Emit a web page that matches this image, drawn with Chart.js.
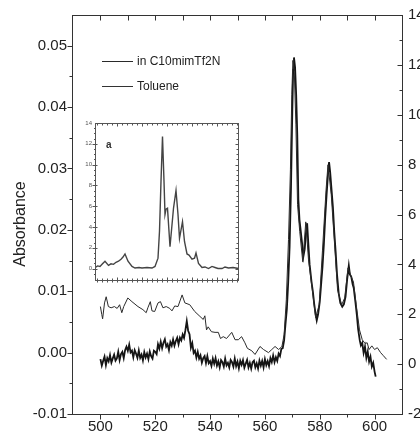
<!DOCTYPE html>
<html>
<head>
<meta charset="utf-8">
<script src="https://cdn.jsdelivr.net/npm/chart.js@4.4.0/dist/chart.umd.min.js"></script>
<style>
  html, body { margin: 0; padding: 0; background: #fff; }
  #wrap { position: relative; width: 420px; height: 435px; overflow: hidden; }
  #main { position: absolute; left: 0; top: 0; }
  #inset { position: absolute; left: 78px; top: 116px; filter: blur(0.35px); }
</style>
</head>
<body>
<div id="wrap">
  <canvas id="main" width="420" height="435" style="width:420px;height:435px"></canvas>
  <canvas id="inset" width="168" height="172" style="width:168px;height:172px"></canvas>
</div>
<script>
// ---- series names ----
const seriesNames = ['in C10mimTf2N', 'Toluene'];

// ---- absorbance in C10mimTf2N (left axis) ----
const ilNm = [500,500.5,500.8,501.5,502.1,502.9,503.9,505.1,506.1,507,507.8,508.5,510,511.5,513.7,515.5,516.7,517.3,518.2,518.8,
  519.8,521,521.9,522.8,524,525.3,526.1,527.1,528.3,529.8,530.8,532.6,534.4,536.3,537.5,538.1,538.7,539.3,540.5,541.8,
  543,543.8,544.8,546,547.9,549.1,550.3,551.5,552.7,553.6,555.2,556.4,558.2,559.5,561.3,562.5,563.7,565,566.2,567,
  567.8,568.6,569.3,569.8,570.2,570.7,571.3,571.9,572.7,573.8,574.9,575.9,577.3,578.5,579.8,581,582.3,583,584.2,585.3,
  586.5,588,589.1,590.3,591.2,592.3,593.3,594.5,595.5,596.5,597.3,598,599,600,601,602.2,603.2,604.4];
const ilAbs = [0.0075,0.0062,0.0055,0.0081,0.0091,0.0075,0.0073,0.0075,0.0072,0.0078,0.0065,0.0075,0.0089,0.0083,0.0075,0.0070,0.0065,0.0073,0.0083,0.0068,
  0.0067,0.0081,0.0083,0.0073,0.0075,0.0072,0.0068,0.0076,0.0075,0.0094,0.0081,0.0078,0.0067,0.0059,0.0054,0.0060,0.0037,0.0042,0.0034,0.0033,
  0.0033,0.0023,0.0026,0.0023,0.0033,0.0021,0.0021,0.0026,0.0016,0.0007,0.0003,-0.0003,0.0010,0.0005,0.0000,0.0005,0.0010,0.0005,0.0010,0.0029,
  0.0086,0.0184,0.0298,0.0420,0.0476,0.0460,0.0371,0.0241,0.0197,0.0148,0.0213,0.0151,0.0102,0.0057,0.0078,0.0167,0.0265,0.0306,0.0257,0.0184,
  0.0102,0.0078,0.0089,0.0138,0.0127,0.0115,0.0078,0.0037,0.0021,0.0015,0.0016,0.0005,0.0011,0.0005,0.0008,0.0000,-0.0005,-0.0011];

// ---- toluene spectrum (right axis) ----
const tolNm = [
  500,500.5,501,501.5,502,502.5,503,503.5,504,504.5,
  505,505.5,506,506.5,507,507.5,508,508.5,509,509.5,
  510,510.5,511,511.5,512,512.5,513,513.5,514,514.5,
  515,515.5,516,516.5,517,517.5,518,518.5,519,519.5,
  520,520.5,521,521.5,522,522.5,523,523.5,524,524.5,
  525,525.5,526,526.5,527,527.5,528,528.5,529,529.5,
  530,530.5,531,531.5,532,532.5,533,533.5,534,534.5,
  535,535.5,536,536.5,537,537.5,538,538.5,539,539.5,
  540,540.5,541,541.5,542,542.5,543,543.5,544,544.5,
  545,545.5,546,546.5,547,547.5,548,548.5,549,549.5,
  550,550.5,551,551.5,552,552.5,553,553.5,554,554.5,
  555,555.5,556,556.5,557,557.5,558,558.5,559,559.5,
  560,560.5,561,561.5,562,562.5,563,563.5,564,564.5,
  565,565.5,566,566.5,
  567,567.5,568,568.5,569,569.5,570,570.3,570.6,571,
  571.4,571.8,572.2,572.6,573,573.5,574,574.5,575,575.4,
  575.8,576.3,577,577.5,578,578.5,578.9,579.4,580,580.5,
  581,581.5,582,582.5,583,583.4,583.8,584.3,584.8,585.3,
  585.8,586.3,586.9,587.5,588.2,588.8,589.4,590,590.6,591,
  591.5,592,592.4,593,593.5,594,594.6,595,595.5,596,
  596.5,597,597.5,598,598.5,599,599.5,600,600.4];
const tolVal = [
  0.20,-0.06,0.13,0.30,-0.04,0.24,0.11,0.36,0.06,0.23,
  0.38,0.14,0.23,0.50,0.16,0.40,0.49,0.24,0.56,0.70,
  0.53,0.78,0.47,0.54,0.27,0.56,0.42,0.25,0.55,0.25,
  0.38,0.15,0.48,0.27,0.42,0.20,0.51,0.32,0.22,0.54,
  0.49,0.40,0.80,0.62,0.90,0.64,0.86,1.00,0.70,0.80,
  0.56,0.88,0.74,0.99,0.74,0.93,1.06,0.80,1.06,0.95,
  1.19,1.05,1.36,1.72,1.34,1.20,0.66,0.84,0.45,0.54,
  0.26,0.49,0.22,0.35,0.06,0.24,0.32,0.04,0.32,0.04,
  0.12,-0.07,0.22,0.01,0.24,-0.06,0.11,-0.13,0.16,0.08,
  -0.10,0.22,-0.05,0.05,-0.13,0.17,0.08,-0.10,0.22,-0.08,
  0.10,-0.17,0.13,-0.03,0.16,-0.14,0.02,0.17,-0.13,0.05,
  -0.18,0.08,0.14,-0.13,0.03,-0.18,0.14,-0.06,0.13,-0.13,
  0.20,-0.04,0.12,-0.08,0.24,0.08,0.35,0.08,0.28,0.13,
  0.42,0.32,0.61,0.64,
  0.95,1.6,2.2,3.3,4.7,7.0,10.2,11.8,12.3,11.9,
  10.8,9.2,6.6,5.8,5.4,4.9,4.3,4.6,5.3,5.65,
  4.9,4.0,3.3,2.9,2.4,2.0,1.75,2.0,2.5,3.2,
  3.9,4.8,5.9,6.8,7.6,8.1,7.7,7.0,6.3,5.3,
  4.5,3.6,2.85,2.45,2.3,2.4,2.7,3.4,3.95,3.6,
  3.5,3.2,3.05,2.5,2.0,1.4,0.95,0.75,0.85,0.45,
  0.7,0.25,0.5,0.1,0.3,-0.1,0.05,-0.3,-0.5];

// ---- inset (a): wider-range spectrum ----
const insetNm = [503,505.5,508,510.5,513,516.5,519,521.5,524,526.5,529,531,533,536,540,543,547,550,555,560,
  563,566,567.5,569,570.5,572,573,574,575.5,578,581.5,584,586,587.5,590.5,592.5,595,597,600,602.5,
  604,606.5,610,613,616.5,620,623,626,630,633,636.5,641,646.5];
const insetVal = [0.07,0.25,0.2,0.45,0.7,0.3,0.45,0.4,0.6,0.7,0.9,1.1,1.4,0.7,0.2,0.05,0.1,0.05,0.1,0.05,
  0.2,1.0,3.6,8.4,12.7,8.4,5.2,5.7,5.8,2.1,5.8,7.5,5.2,2.9,4.5,2.6,1.4,1.3,0.9,1.0,
  1.5,0.5,0.1,0.15,0.0,0.2,0.1,0.0,0.0,0.15,0.05,0.1,0.0];

// ---- tick labels ----
const xTicks = [500, 520, 540, 560, 580, 600];
const yLeftTicks = [-0.01, 0.00, 0.01, 0.02, 0.03, 0.04, 0.05];
const yRightTicks = [-2, 0, 2, 4, 6, 8, 10, 12, 14];
const insetYTicks = [0, 2, 4, 6, 8, 10, 12, 14];

const FONT = "'Liberation Sans', Arial, Helvetica, sans-serif";
const INK = '#222';

function pts(xs, ys) { return xs.map((x, i) => ({ x: x, y: ys[i] })); }
function setTicks(list) { return scale => { scale.ticks = list.map(v => ({ value: v })); }; }
function seg(ctx, x1, y1, x2, y2) { ctx.beginPath(); ctx.moveTo(x1, y1); ctx.lineTo(x2, y2); ctx.stroke(); }

// frame, tick marks, legend and axis title of the main panel
const mainDecor = {
  id: 'mainDecor',
  afterDraw(chart) {
    const { ctx, chartArea: a, scales } = chart;
    const sx = scales.x, sy = scales.y, sr = scales.y1;
    const L = Math.round(a.left) - 0.5, R = Math.round(a.right) + 0.5;
    const T = Math.round(a.top) + 0.5, B = Math.round(a.bottom) + 0.5;
    ctx.save();
    ctx.strokeStyle = '#333';
    ctx.lineWidth = 1;
    ctx.strokeRect(L, T, R - L, B - T);

    // left axis: major every 0.01, minor halfway, pointing out
    for (let k = 0; k <= 13; k++) {
      const v = -0.01 + k * 0.005;
      const y = Math.round(sy.getPixelForValue(v)) + 0.5;
      if (y < T + 1) continue;
      seg(ctx, L - (k % 2 === 0 ? 5 : 3), y, L, y);
    }
    // bottom axis: major every 20, minor every 10, pointing out
    for (let v = 490; v <= 610; v += 10) {
      const x = Math.round(sx.getPixelForValue(v)) + 0.5;
      if (x <= L + 1 || x >= R - 1) continue;
      seg(ctx, x, B, x, B + (v % 20 === 0 ? 5 : 3));
    }
    // top axis: every 10, pointing in
    for (let v = 500; v <= 600; v += 10) {
      const x = Math.round(sx.getPixelForValue(v)) + 0.5;
      seg(ctx, x, T, x, T + 5);
    }
    // right axis: every unit, pointing in
    for (let v = -1; v <= 13; v++) {
      const y = Math.round(sr.getPixelForValue(v)) + 0.5;
      seg(ctx, R - (v % 2 === 0 ? 5 : 3), y, R, y);
    }

    // legend
    ctx.font = '12px ' + FONT;
    ctx.fillStyle = INK;
    ctx.textBaseline = 'middle';
    ctx.textAlign = 'left';
    const items = [
      { name: seriesNames[0], y: 61.5, color: '#2a2a2a' },
      { name: seriesNames[1], y: 86.5, color: '#333' }
    ];
    items.forEach(it => {
      ctx.strokeStyle = it.color;
      seg(ctx, 102, it.y, 133, it.y);
      ctx.fillText(it.name, 137, it.y);
    });

    // y-axis title
    ctx.save();
    ctx.translate(21, 224);
    ctx.rotate(-Math.PI / 2);
    ctx.textAlign = 'center';
    ctx.font = '16px ' + FONT;
    ctx.fillText('Absorbance', 0, 0);
    ctx.restore();
    ctx.restore();
  }
};

new Chart(document.getElementById('main'), {
  type: 'line',
  data: {
    datasets: [
      { label: seriesNames[0], data: pts(ilNm, ilAbs), yAxisID: 'y',
        borderColor: '#2a2a2a', borderWidth: 1, pointRadius: 0, tension: 0 },
      { label: seriesNames[1], data: pts(tolNm, tolVal), yAxisID: 'y1',
        borderColor: '#151515', borderWidth: 1.8, pointRadius: 0, tension: 0 }
    ]
  },
  options: {
    responsive: false,
    animation: false,
    devicePixelRatio: 1,
    layout: { padding: { top: 14, left: 0, right: 0, bottom: 0 } },
    plugins: { legend: { display: false }, tooltip: { enabled: false } },
    scales: {
      x: {
        type: 'linear', position: 'bottom', min: 490, max: 610,
        afterBuildTicks: setTicks(xTicks),
        afterFit: s => { s.height = 21; },
        grid: { display: false, drawTicks: false },
        border: { display: false },
        ticks: { font: { size: 15, family: FONT }, color: INK, padding: 4, maxRotation: 0, autoSkip: false }
      },
      y: {
        type: 'linear', position: 'left', min: -0.01, max: 0.055,
        afterBuildTicks: setTicks(yLeftTicks),
        afterFit: s => { s.width = 73; },
        grid: { display: false, drawTicks: false },
        border: { display: false },
        ticks: { font: { size: 15, family: FONT }, color: INK, padding: 6,
          callback: v => v.toFixed(2) }
      },
      y1: {
        type: 'linear', position: 'right', min: -2, max: 14,
        afterBuildTicks: setTicks(yRightTicks),
        afterFit: s => { s.width = 18; },
        grid: { display: false, drawTicks: false },
        border: { display: false },
        ticks: { font: { size: 15, family: FONT }, color: INK, padding: 6,
          callback: v => String(v) }
      }
    }
  },
  plugins: [mainDecor]
});

// white ground, frame and dense ticks of the inset
const insetDecor = {
  id: 'insetDecor',
  beforeDraw(chart) {
    const ctx = chart.ctx;
    ctx.save();
    ctx.fillStyle = '#fff';
    ctx.fillRect(0, 0, chart.width, chart.height);
    ctx.restore();
  },
  afterDraw(chart) {
    const { ctx, chartArea: a, scales } = chart;
    const sx = scales.x, sy = scales.y;
    const L = Math.round(a.left) + 0.5, R = Math.round(a.right) - 0.5;
    const T = Math.round(a.top) + 0.5, B = Math.round(a.bottom) - 0.5;
    ctx.save();
    ctx.strokeStyle = '#555';
    ctx.lineWidth = 1;
    ctx.strokeRect(L, T, R - L, B - T);
    // horizontal axis: small crossing ticks every 5 nm
    for (let v = 505; v <= 645; v += 5) {
      const x = Math.round(sx.getPixelForValue(v)) + 0.5;
      const big = v % 25 === 0;
      seg(ctx, x, B - (big ? 3 : 2), x, B + 2);
      seg(ctx, x, T, x, T + (big ? 3 : 2));
    }
    // vertical axes
    for (let k = -2; k <= 27; k++) {
      const v = k * 0.5;
      const y = Math.round(sy.getPixelForValue(v)) + 0.5;
      if (y <= T + 1 || y >= B - 1) continue;
      const big = k % 4 === 0;
      seg(ctx, L - (big ? 3 : 1.5), y, L + (big ? 2 : 0), y);
      seg(ctx, R - (big ? 3 : 2), y, R, y);
    }
    ctx.fillStyle = '#333';
    ctx.font = 'bold 10px ' + FONT;
    ctx.textBaseline = 'middle';
    ctx.fillText('a', 28, 29);
    ctx.restore();
  }
};

new Chart(document.getElementById('inset'), {
  type: 'line',
  data: {
    datasets: [
      { data: pts(insetNm, insetVal), borderColor: '#444', borderWidth: 1.4, pointRadius: 0, tension: 0 }
    ]
  },
  options: {
    responsive: false,
    animation: false,
    devicePixelRatio: 1,
    layout: { padding: { top: 7, right: 7, bottom: 7, left: 0 } },
    plugins: { legend: { display: false }, tooltip: { enabled: false } },
    scales: {
      x: { type: 'linear', min: 503, max: 647, display: false },
      y: {
        type: 'linear', min: -1.2, max: 14,
        afterBuildTicks: setTicks(insetYTicks),
        afterFit: s => { s.width = 17; },
        grid: { display: false, drawTicks: false },
        border: { display: false },
        ticks: { font: { size: 6, family: FONT }, color: '#555', padding: 3 }
      }
    }
  },
  plugins: [insetDecor]
});
</script>
</body>
</html>
